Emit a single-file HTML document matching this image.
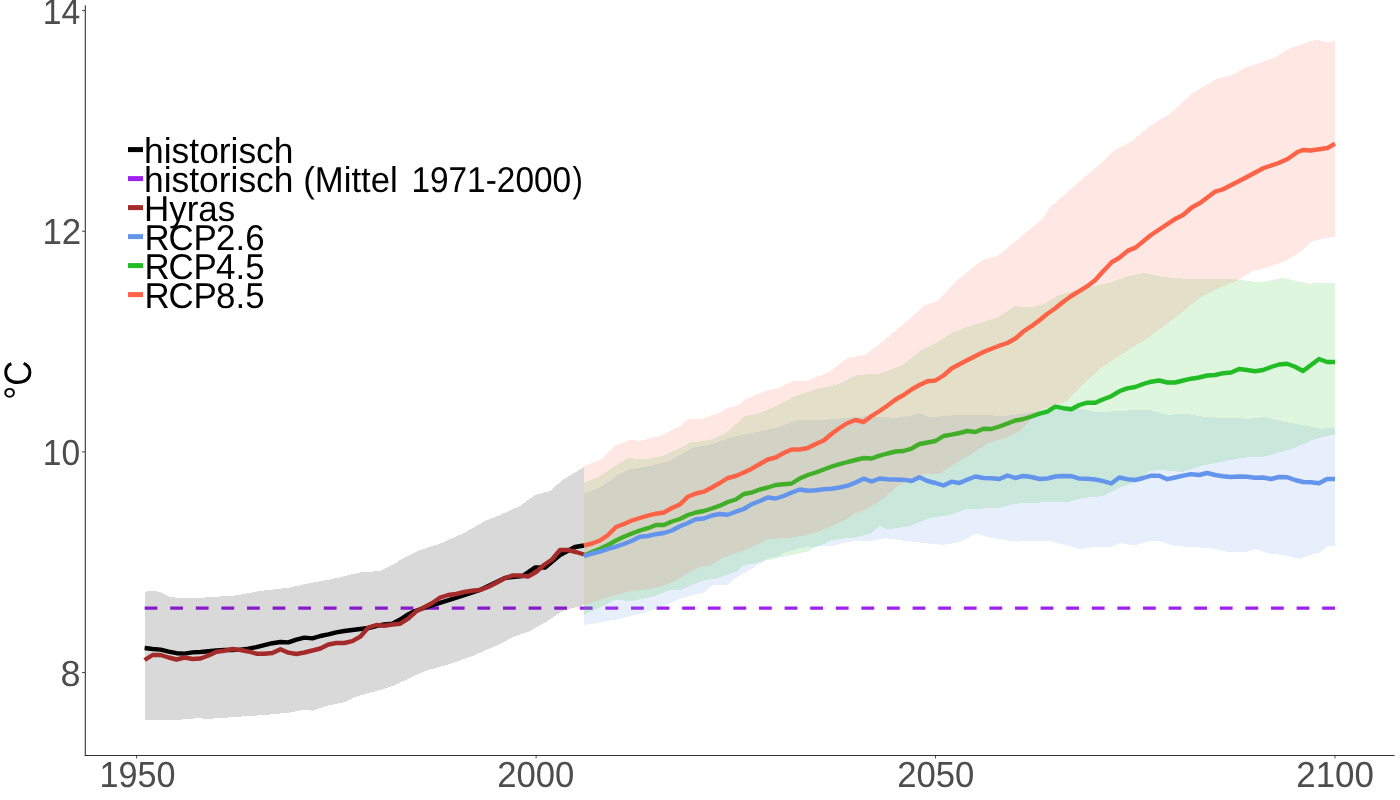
<!DOCTYPE html>
<html lang="de"><head><meta charset="utf-8"><title>Temperatur</title>
<style>
html,body{margin:0;padding:0;background:#fff;}
body{width:1400px;height:800px;overflow:hidden;}
svg{display:block;}
text{font-family:"Liberation Sans",Arial,Helvetica,sans-serif;text-rendering:geometricPrecision;}
.ax{font-size:35px;fill:#4D4D4D;}
.lg{font-size:35px;fill:#000;}
.yt{font-size:35px;fill:#000;}
</style></head><body>
<svg width="1400" height="800" viewBox="0 0 1400 800">
<rect width="1400" height="800" fill="#fff"/>
<line x1="144.6" x2="1335" y1="608.2" y2="608.2" stroke="#A020F0" stroke-width="3.2" stroke-dasharray="12.8 12.8"/>
<polygon points="144.6,592 153,590.5 161,592.5 169,596.5 180,598.5 205,597.5 235,595.5 260,591 290,587.5 305,584 330,579.5 360,572.5 380,571 395,563.7 400,560 417.5,551 440,543.7 465,532.5 485,521 500,515 520,506 535,495 550,491 562.5,480 575,472.5 584,467 584,605 575,607.5 562.5,611 545,622.5 530,631 515,636 500,644 475,655 450,664 425,671 410,678 395,685 380,690 355,697 345,702 330,705 312,710.7 305,709.5 290,712.5 265,715 235,717 205,719 200,718 170,720.5 144.6,720" fill="#000" fill-opacity="0.15" shape-rendering="crispEdges"/>
<polygon points="584,493.7 600,487.5 620,473.7 632.5,468.7 650,466 670,460.5 682.5,453.7 692.5,447.5 710,445 730,437.5 755,432.5 777.5,427.5 797.5,420 820,420.5 845,418 870,416 895,418 910,416 919,413 930,417.5 950,415.5 980,415 1005,416 1030,412.5 1050,412 1060,409 1075,408 1100,412.5 1120,410.7 1150,410 1167.5,415 1185,413.7 1205,417 1225,418 1250,418.7 1265,417 1285,422 1305,425.5 1320,428.7 1335,428 1335,545.7 1327.5,546 1320,552.5 1310,555 1300,558.7 1282.5,555 1270,553.7 1255,549 1247.5,551.7 1230,552.5 1210,548 1190,547 1175,546 1157.5,540.5 1145,542 1135,545.5 1120,543 1110,547.5 1095,547 1080,549 1065,545 1050,541 1030,540.5 1015,541.7 990,537.5 976,533.7 960,542 942.5,545 920,542.5 905,541 885,538 870,541 855,541 840,543.5 834,546.2 827,546.5 818,546.2 813,547.5 809,547 798,548.5 786,552.2 778,556.2 768,558.5 764,561 760,564 750,569.5 736,578 727,585.5 713,585 704,592.5 700,593.5 680,598.7 670,603.7 645,612.5 620,618.7 600,622.5 584,625" fill="#6495ED" fill-opacity="0.15" shape-rendering="crispEdges"/>
<polygon points="584,483 600,476 612.5,467.5 627.5,458 645,459.5 662.5,456 680,448 690,442.5 710,440 725,433.7 745,416 760,413 777.5,405.5 795,396 817.5,388.7 837.5,384.5 857.5,375 880,373.5 902.5,365 920,351 935,343.7 952.5,332.5 970,326 997.5,317.5 1015,306 1030,307.5 1045,303.7 1057.5,295.6 1076,290 1095,286 1110,282.5 1128.7,276 1143.7,273 1162.5,277 1185,278.7 1207.5,278.7 1237.5,279.5 1260,282.5 1282.5,278 1308.7,283.6 1335,282.5 1335,434.5 1320,437.5 1310,441 1295,448 1275,453.7 1262.5,457 1245,457.5 1225,461 1200,466 1182.5,472 1160,470 1150,471 1135,482.5 1120,487.5 1102.5,496 1082.5,498 1067.5,502.5 1050,502 1015,503.7 1000,507.5 965,509.5 950,515 930,518 910,526 887.5,529.5 880,526 870,533.7 855,537.5 840,538.8 831,540.5 825,543.5 818,546.2 812,549 808,551.5 796,554 786,556 776,558.5 765,560.5 756,563.2 744,565.2 736,572 726,575 714,579 706,579.8 700,581.8 680,590 670,590 655,596 632.5,601 615,600 600,607.5 584,615" fill="#22BC24" fill-opacity="0.15" shape-rendering="crispEdges"/>
<polyline points="584,555.6 592,552 600,548.7 608,545 616,540.5 623.9,536.7 631.9,533.5 639.9,530.5 647.9,528.2 655.9,525 663.9,525 671.9,521.5 679.9,519 687.9,515 695.8,512.5 703.8,511 711.8,508.5 719.8,505.7 727.8,502 735.8,499.5 743.8,494 751.8,492.5 759.8,489.5 767.7,487.5 775.7,485 783.7,484.2 791.7,483.5 799.7,478.5 807.7,475 815.7,472.5 823.7,469.5 831.7,466.5 839.6,464.2 847.6,462 855.6,460 863.6,458 871.6,458.5 879.6,455.7 887.6,453.5 895.6,451.5 903.6,451 911.5,448.7 919.5,444 927.5,442.5 935.5,441 943.5,436 951.5,434.7 959.5,433 967.5,431 975.5,432 983.4,428.7 991.4,429 999.4,426.5 1007.4,423.5 1015.4,420.5 1023.4,419 1031.4,416.5 1039.4,413.7 1047.4,411.7 1055.3,406.7 1063.3,408.2 1071.3,409.3 1079.3,405 1087.3,402.7 1095.3,402.7 1103.3,399.2 1111.3,396.2 1119.3,391.3 1127.2,388.4 1135.2,387 1143.2,384 1151.2,381.7 1159.2,380.5 1167.2,382.5 1175.2,382.5 1183.2,380.5 1191.2,378.7 1199.1,377.5 1207.1,375.5 1215.1,375 1223.1,373.2 1231.1,372.5 1239.1,369 1247.1,370 1255.1,371.2 1263.1,370 1271,367 1279,364.5 1287,363.7 1295,366.7 1303,371 1311,365 1319,359 1327,362 1335,362" fill="none" stroke="#22BC24" stroke-width="4.4" stroke-linejoin="round" stroke-linecap="butt"/>
<polygon points="584,466 600,460 615,446 630,439.5 640,441 662.5,435 680,426 687.5,419.5 702.5,418.7 720,412.5 730,407 740,405 745,399.5 767.5,390 777.5,388.7 792.5,381 807.5,381 830,371.5 847.5,358 865,355 880,343.7 902.5,325 925,305 937.5,301 957.5,280 982.5,260 997.5,256 1020,237.5 1042.5,218.7 1050,207.5 1080,181 1102.5,162.5 1113.7,151 1132.5,140.7 1151,125 1170,113.7 1192.5,93 1218.7,78 1230,76 1245,68 1275,57.5 1290,48 1316,39.5 1327.5,42.5 1335,41 1335,236.5 1322.5,239 1310,242 1302.5,250 1287.5,260 1267.5,267.5 1252.5,271 1237.5,280.6 1218.7,288 1200,297.5 1177.5,316 1145,340 1132.5,347.5 1115,358.7 1100,368.7 1085,382.5 1080,387.5 1073,394.5 1070,397.5 1065,402 1056,404.5 1048,408 1040,410.5 1030,420 1020,431 1010,436 987.5,443.7 970,455 955,463.7 940,473.7 925,473.7 910,480 897.5,486 885,497.5 867.5,508.7 855,513.7 845,520 840,522 830,527 818,531.5 804,535.5 790,537.8 767,539 760,543.5 745,550 728,555.8 719,560 710,565.5 700,566.8 687.5,573.7 670,583.7 652.5,588.7 630,591 607.5,597.5 584,605" fill="#FF6347" fill-opacity="0.15" shape-rendering="crispEdges"/>
<polyline points="144.6,648 152.6,649 160.6,649.6 168.6,651.6 176.6,653.2 184.5,653.6 192.5,652.4 200.5,652 208.5,651.2 216.5,650.4 224.5,650 232.5,650 240.5,649.6 248.5,648.6 256.4,647.2 264.4,645.2 272.4,643.2 280.4,642 288.4,642.4 296.4,639.6 304.4,637.6 312.4,638.4 320.4,636 328.3,634.4 336.3,632.4 344.3,631 352.3,630 360.3,629 368.3,628 376.3,626 384.3,624.4 392.3,623.6 400.2,619.5 407,615 415,611 437.5,603.7 465,595 480,590 505,578 522.5,576 535,567.5 545,567.5 560,555 575,547 584,545.5" fill="none" stroke="#000" stroke-width="4.4" stroke-linejoin="round" stroke-linecap="butt"/>
<polyline points="144.6,660 152.6,655 160.6,655 168.6,657.5 176.6,659.5 184.5,657.5 192.5,659 200.5,658.5 208.5,655.5 216.5,651.7 224.5,650.7 232.5,649 240.5,650 248.5,651.5 256.4,653.7 264.4,653.7 272.4,653 280.4,649.2 288.4,652.7 296.4,654 304.4,652.5 312.4,650.5 320.4,648.5 328.3,644.5 336.3,643 344.3,643 352.3,641.2 360.3,636.7 368.3,627.5 376.3,625 384.3,625.7 392.3,624.5 400.2,623.7 408.2,618.7 416.2,611.3 424.2,607.2 432.2,603 440.2,597.5 448.2,595 456.2,594 464.2,592 472.1,590.8 480.1,590 488.1,587 496.1,583 504.1,578.5 512.1,575.5 520.1,575.5 528.1,576.5 536.1,572 544,565 552,559.5 560,550 568,550 576,552 584,554.5" fill="none" stroke="#A52A2A" stroke-width="4.4" stroke-linejoin="round" stroke-linecap="butt"/>
<polyline points="584,556.2 592,553.5 600,551.7 608,549 616,546.7 623.9,544 631.9,540.7 639.9,536.7 647.9,536 655.9,534.2 663.9,533 671.9,530.5 679.9,526.2 687.9,523 695.8,519.2 703.8,518.5 711.8,515.5 719.8,514 727.8,514.7 735.8,511.7 743.8,509 751.8,504.2 759.8,501 767.7,497.5 775.7,498.5 783.7,496 791.7,492.5 799.7,489.5 807.7,490.7 815.7,490.2 823.7,489.2 831.7,488.7 839.6,487.5 847.6,485.7 855.6,482.5 863.6,478.7 871.6,481.5 879.6,478.5 887.6,479.2 895.6,479.5 903.6,479.7 911.5,481 919.5,477.2 927.5,481 935.5,483 943.5,485.5 951.5,481.7 959.5,483 967.5,479.5 975.5,476.5 983.4,478 991.4,478.2 999.4,479 1007.4,475.5 1015.4,478 1023.4,476 1031.4,477 1039.4,479 1047.4,478.5 1055.3,476.5 1063.3,476 1071.3,476.2 1079.3,478.6 1087.3,478.8 1095.3,479.5 1103.3,481.1 1111.3,483.5 1119.3,477.5 1127.2,479.2 1135.2,480 1143.2,478 1151.2,475.7 1159.2,475.7 1167.2,479.2 1175.2,477.5 1183.2,475.7 1191.2,474.2 1199.1,475 1207.1,473 1215.1,475 1223.1,476.2 1231.1,477 1239.1,476.5 1247.1,476.7 1255.1,477.7 1263.1,477.5 1271,479 1279,477 1287,477.2 1295,480 1303,482 1311,482.2 1319,483.2 1327,479 1335,479" fill="none" stroke="#6495ED" stroke-width="4.4" stroke-linejoin="round" stroke-linecap="butt"/>
<polyline points="584,545.5 592,543.5 600,540.5 608,535 616,527 623.9,524 631.9,520.5 639.9,518 647.9,515.7 655.9,513.7 663.9,512.5 671.9,508 679.9,504.5 687.9,496.7 695.8,493.5 703.8,491.7 711.8,487.5 719.8,483 727.8,478 735.8,476 743.8,472.5 751.8,468.7 759.8,464 767.7,459.5 775.7,457.5 783.7,453 791.7,449.5 799.7,449.5 807.7,448 815.7,444 823.7,440.5 831.7,433.7 839.6,428 847.6,423 855.6,420 863.6,422 871.6,416 879.6,411 887.6,405.5 895.6,399.5 903.6,395 911.5,389.5 919.5,385 927.5,381.2 935.5,380.5 943.5,375.5 951.5,368.5 959.5,364.2 967.5,360 975.5,356 983.4,352 991.4,348.7 999.4,345.7 1007.4,343 1015.4,338.5 1023.4,331.5 1031.4,326.2 1039.4,320.2 1047.4,313.7 1055.3,308.2 1063.3,301.7 1071.3,296 1079.3,291.2 1087.3,286.2 1095.3,280 1102.5,272 1112,262 1119,258 1128,250.6 1135.5,247.6 1151,235 1175.6,218.7 1183,215 1191.7,207.5 1200,203 1215,191.7 1222.5,189.5 1245,178 1263.7,168 1278.7,163 1288,158.7 1297.5,152 1303,150 1310.6,150.5 1327.5,148 1335,143.7" fill="none" stroke="#FF6347" stroke-width="4.4" stroke-linejoin="round" stroke-linecap="butt"/>
<line x1="85.3" x2="85.3" y1="5.2" y2="756" stroke="#333" stroke-width="1.1"/>
<line x1="84.75" x2="1394.5" y1="755.5" y2="755.5" stroke="#333" stroke-width="1.1"/>
<line x1="82" x2="85" y1="10.6" y2="10.6" stroke="#333" stroke-width="0.9"/>
<line x1="82" x2="85" y1="231.25" y2="231.25" stroke="#333" stroke-width="0.9"/>
<line x1="82" x2="85" y1="451.9" y2="451.9" stroke="#333" stroke-width="0.9"/>
<line x1="82" x2="85" y1="672.55" y2="672.55" stroke="#333" stroke-width="0.9"/>
<text transform="translate(42.72,23.75) scale(0.9643,1.035)" class="ax">14</text>
<text transform="translate(42.39,244.40) scale(0.9971,1.035)" class="ax">12</text>
<text transform="translate(42.73,464.90) scale(0.9604,1.035)" class="ax">10</text>
<text transform="translate(60.45,685.90) scale(1.0303,1.035)" class="ax">8</text>
<line x1="136.6" x2="136.6" y1="756" y2="758.4" stroke="#333" stroke-width="0.9"/>
<line x1="536.1" x2="536.1" y1="756" y2="758.4" stroke="#333" stroke-width="0.9"/>
<line x1="935.5" x2="935.5" y1="756" y2="758.4" stroke="#333" stroke-width="0.9"/>
<line x1="1335.0" x2="1335.0" y1="756" y2="758.4" stroke="#333" stroke-width="0.9"/>
<text transform="translate(99.55,787.10) scale(0.9746,1.035)" class="ax">1950</text>
<text transform="translate(497.27,787.10) scale(0.9900,1.035)" class="ax">2000</text>
<text transform="translate(897.27,787.10) scale(0.9900,1.035)" class="ax">2050</text>
<text transform="translate(1296.26,787.10) scale(0.9967,1.035)" class="ax">2100</text>
<text transform="translate(31.1,399.76) rotate(-90) scale(0.9955,1.094)" class="lg">°C</text>
<line x1="128" x2="143" y1="149.6" y2="149.6" stroke="#000" stroke-width="5"/>
<text transform="translate(144.10,162.80) scale(1.0103,1.026)" class="lg">historisch</text>
<line x1="128" x2="143" y1="178.6" y2="178.6" stroke="#A020F0" stroke-width="5"/>
<text transform="translate(0,191.80) scale(1,1.026)" class="lg"><tspan x="144.10" textLength="149.36" lengthAdjust="spacingAndGlyphs">historisch</tspan> <tspan x="303.30" textLength="94.48" lengthAdjust="spacingAndGlyphs">(Mittel</tspan> <tspan x="411.40" textLength="159.73" lengthAdjust="spacingAndGlyphs">1971-2000</tspan><tspan x="572.58" textLength="10.34" lengthAdjust="spacingAndGlyphs">)</tspan></text>
<line x1="128" x2="143" y1="207.6" y2="207.6" stroke="#A52A2A" stroke-width="5"/>
<text transform="translate(144.02,220.80) scale(0.9984,1.026)" class="lg">Hyras</text>
<line x1="128" x2="143" y1="236.6" y2="236.6" stroke="#6495ED" stroke-width="5"/>
<text transform="translate(144.43,249.80) scale(0.9964,1.026)" class="lg">R<tspan dx="-1.2">CP</tspan><tspan dx="-0.8">2.6</tspan></text>
<line x1="128" x2="143" y1="265.6" y2="265.6" stroke="#22BC24" stroke-width="5"/>
<text transform="translate(144.43,278.80) scale(0.9964,1.026)" class="lg">R<tspan dx="-1.2">CP</tspan><tspan dx="-0.8">4.5</tspan></text>
<line x1="128" x2="143" y1="294.6" y2="294.6" stroke="#FF6347" stroke-width="5"/>
<text transform="translate(144.43,307.80) scale(0.9964,1.026)" class="lg">R<tspan dx="-1.2">CP</tspan><tspan dx="-0.8">8.5</tspan></text>
</svg>
</body></html>
